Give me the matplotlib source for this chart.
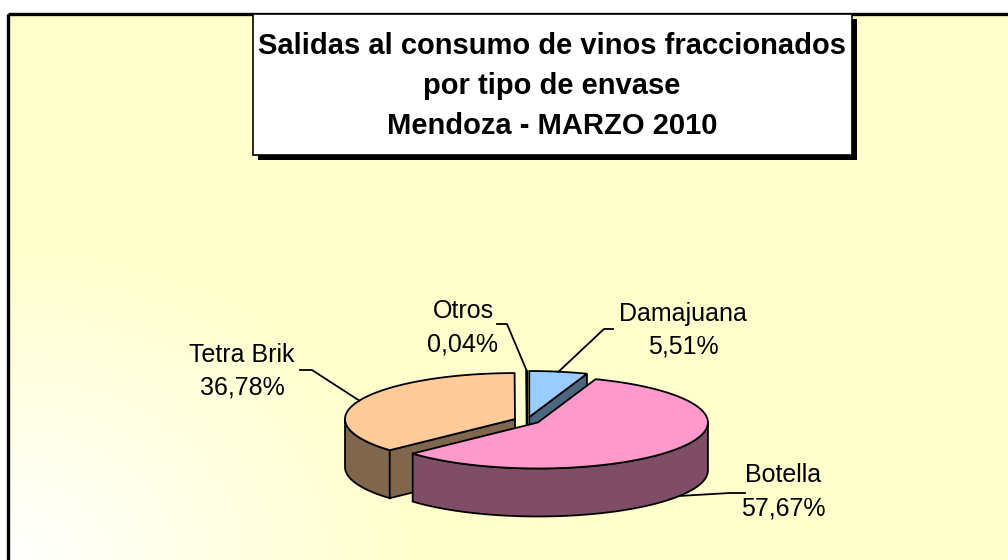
import numpy as np
import matplotlib.pyplot as plt
from matplotlib.patches import Polygon, Rectangle

plt.rcParams['font.family'] = ['Liberation Sans', 'DejaVu Sans']

# data
labels = ['Damajuana', 'Botella', 'Tetra Brik', 'Otros']
shares = [5.51, 57.67, 36.78, 0.04]
top_colors = ['#99CCFF', '#FF99CC', '#FFCC99', '#333333']
title_lines = ['Salidas al consumo de vinos fraccionados',
               'por tipo de envase',
               'Mendoza - MARZO 2010']

# layout (pixels, y down)
W, H = 1008, 560
cx, cy = 527, 420.5
ra, rb = 170, 46
depth = 48
explode = 0.077
label_pos = {'Damajuana': (683, 330), 'Botella': (783, 492),
             'Tetra Brik': (242, 371), 'Otros': (463, 328)}
elbows = {'Damajuana': [(604, 329), (613, 329)],
          'Botella': [(730, 493), (745, 493)],
          'Tetra Brik': [(312, 370), (300, 370)],
          'Otros': [(507, 324), (497, 324)]}


def darker(c, f=0.5):
    c = np.array(plt.matplotlib.colors.to_rgb(c))
    return tuple(c * f)


def pt(x0, y0, th, dz=0):
    return (x0 + ra * np.cos(th), y0 - rb * np.sin(th) + dz)


fig = plt.figure(figsize=(W / 100, H / 100), dpi=100)
ax = fig.add_axes([0, 0, 1, 1])
ax.set_xlim(0, W)
ax.set_ylim(H, 0)
ax.axis('off')

# background: white outside the frame, yellow gradient inside
yy, xx = np.mgrid[0:H, 0:W]
dist = np.hypot(xx - 8, (yy - H) * 1.3)
t = np.clip(dist / 420, 0, 1)[..., None]
white = np.array([1.0, 1.0, 1.0])
yellow = np.array([1.0, 1.0, 0.8])
bg = white * (1 - t) + yellow * t
bg[:14, :] = 1
bg[:, :8] = 1
ax.imshow(bg, extent=(0, W, H, 0), zorder=0)
ax.plot([8, W], [14, 14], color='black', lw=2.4, zorder=1, solid_capstyle='butt')
ax.plot([8, 8], [14, H], color='black', lw=2.4, zorder=1, solid_capstyle='butt')

# title box with shadow
ax.add_patch(Rectangle((258, 19), 599, 141, facecolor='black', zorder=2))
ax.add_patch(Rectangle((253, 14), 599, 141, facecolor='white',
                       edgecolor='black', lw=1.2, zorder=3))
for i, line in enumerate(title_lines):
    ax.text(552, 46 + 40 * i, line, ha='center', va='center',
            fontsize=21, fontweight='bold', zorder=4)

# slice angles (clockwise from 12 o'clock, as in Excel)
total = sum(shares)
slices = []
start = np.pi / 2
for name, v, col in zip(labels, shares, top_colors):
    span = 2 * np.pi * v / total
    th_s, th_e = start - span, start
    mid = (th_s + th_e) / 2
    x0 = cx + explode * ra * np.cos(mid)
    y0 = cy - explode * rb * np.sin(mid)
    slices.append(dict(name=name, v=v, col=col, s=th_s, e=th_e, mid=mid, x0=x0, y0=y0))
    start = th_s

lw = 1.3
for sl in sorted(slices, key=lambda d: d['y0']):
    x0, y0 = sl['x0'], sl['y0']
    side = darker(sl['col'])
    n = max(int(np.degrees(sl['e'] - sl['s']) * 2), 2)
    ths = np.linspace(sl['s'], sl['e'], n)
    # outer side, front part only
    run = []
    runs = []
    for a0, a1 in zip(ths[:-1], ths[1:]):
        if np.sin((a0 + a1) / 2) < 0:
            if not run:
                run = [a0]
            run.append(a1)
        elif run:
            runs.append(run)
            run = []
    if run:
        runs.append(run)
    for r in runs:
        top = [pt(x0, y0, a) for a in r]
        bot = [pt(x0, y0, a, depth) for a in r[::-1]]
        ax.add_patch(Polygon(top + bot, closed=True, facecolor=side,
                             edgecolor='black', lw=lw, zorder=5))
    # radial cut faces
    for th, visible in ((sl['s'], np.cos(sl['s']) > 1e-3), (sl['e'], np.cos(sl['e']) < -1e-3)):
        if visible:
            p = pt(x0, y0, th)
            quad = [(x0, y0), p, (p[0], p[1] + depth), (x0, y0 + depth)]
            ax.add_patch(Polygon(quad, closed=True, facecolor=side,
                                 edgecolor='black', lw=lw, zorder=5))
    # top face
    face = [(x0, y0)] + [pt(x0, y0, a) for a in ths]
    ax.add_patch(Polygon(face, closed=True, facecolor=sl['col'],
                         edgecolor='black', lw=lw, zorder=5))

# labels with leader lines
for sl in slices:
    name = sl['name']
    dz = depth if np.sin(sl['mid']) < -0.3 else 0
    anchor = pt(sl['x0'], sl['y0'], sl['mid'], dz)
    pts = [anchor] + elbows[name]
    ax.plot([p[0] for p in pts], [p[1] for p in pts], color='black', lw=1.3, zorder=6)
    lx, ly = label_pos[name]
    pct = f"{sl['v']:.2f}".replace('.', ',') + '%'
    ax.text(lx, ly - 16.5, name, ha='center', va='center', fontsize=18, zorder=7)
    ax.text(lx, ly + 16.5, pct, ha='center', va='center', fontsize=18, zorder=7)

fig.savefig('out.png', dpi=100)
